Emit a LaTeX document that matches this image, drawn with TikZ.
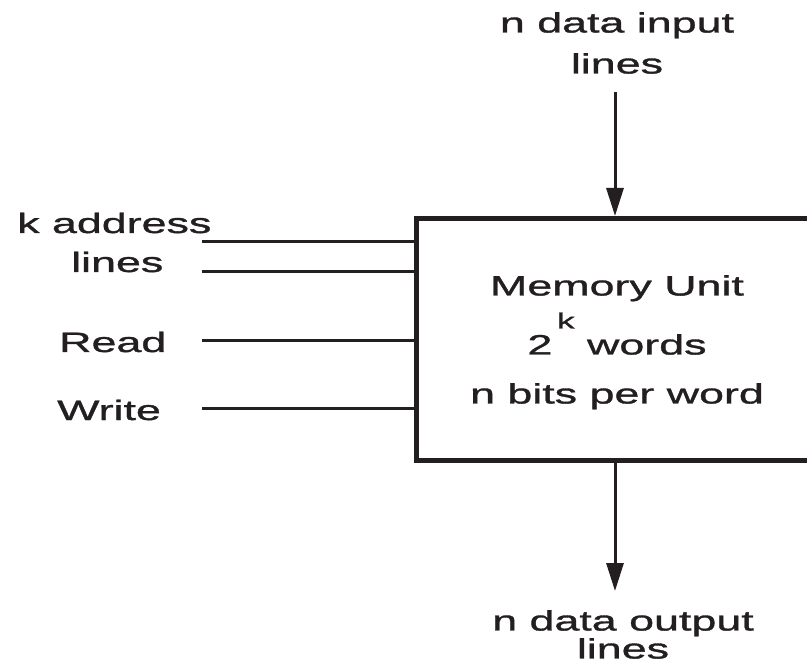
\documentclass[tikz,border=0pt]{standalone}
\usepackage{fontspec}
\setmainfont[FakeStretch=1.6,FakeBold=1.2]{Liberation Sans}
\usetikzlibrary{arrows.meta}
\definecolor{ink}{HTML}{231F20}
\begin{document}
\begin{tikzpicture}[x=1pt,y=-1pt,
  lbl/.style={inner sep=0pt, text=ink, font=\fontsize{28}{41}\selectfont},
  membox/.style={draw=ink, line width=5pt, minimum width=402pt, minimum height=242pt, inner sep=0pt},
  wire/.style={draw=ink, line width=3pt},
  arr/.style={draw=ink, line width=3pt, -{Triangle[length=28pt,width=17pt]}}]
\useasboundingbox (0,0) rectangle (807,666);
\fill[white] (0,0) rectangle (807,666);
\clip (0,0) rectangle (807,666);
% memory box
\node[membox] (mem) at (617,339.5) {};
\node[lbl, align=center, anchor=north, font=\fontsize{28}{49}\selectfont] (memtext) at (617,275)
  {Memory Unit\\[10pt]2\,\raisebox{26pt}{\fontsize{22}{22}\selectfont k} words\\n bits per word};
% left labels
\node[lbl, anchor=base west] (kaddr) at (17,233) {k address};
\node[lbl, anchor=base west] (klines) at (71,272) {lines};
\node[lbl, anchor=base west] (read) at (59,352) {Read};
\node[lbl, anchor=base west] (write) at (57,420) {Write};
% left wire starts
\coordinate (a1) at (202,242);
\coordinate (a2) at (202,272);
\coordinate (rd) at (202,340);
\coordinate (wr) at (202,408);
\draw[wire] (a1) -- (a1 -| mem.west);
\draw[wire] (a2) -- (a2 -| mem.west);
\draw[wire] (rd) -- (rd -| mem.west);
\draw[wire] (wr) -- (wr -| mem.west);
% top input
\node[lbl, align=center, anchor=north] (din) at (617,12) {n data input\\lines};
\coordinate (instart) at (615,92);
\draw[arr] (instart) -- (instart |- mem.north);
% bottom output
\coordinate (outstart) at (615,461);
\coordinate (outend) at (615,591);
\draw[arr] (outstart |- mem.south) -- (outend);
\node[lbl, align=center, anchor=north, font=\fontsize{28}{28}\selectfont] (dout) at (623,610) {n data output\\lines};
\end{tikzpicture}
\end{document}
